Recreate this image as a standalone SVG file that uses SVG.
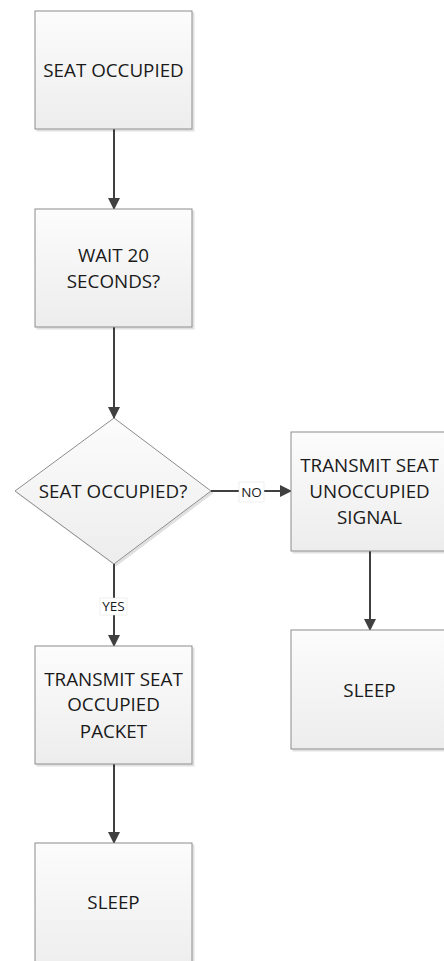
<svg xmlns="http://www.w3.org/2000/svg" width="444" height="961" viewBox="0 0 444 961">
<defs>
<linearGradient id="g" x1="0" y1="0" x2="0" y2="1"><stop offset="0" stop-color="#fcfcfc"/><stop offset="1" stop-color="#ededed"/></linearGradient>
<marker id="ah" markerWidth="12" markerHeight="12" refX="11" refY="6" orient="auto" markerUnits="userSpaceOnUse"><path d="M0,0 L12,6 L0,12 Z" fill="#404040"/></marker>
<filter id="sh" x="-10%" y="-10%" width="130%" height="130%"><feOffset dx="2" dy="2" in="SourceAlpha"/><feColorMatrix type="matrix" values="0 0 0 0 0  0 0 0 0 0  0 0 0 0 0  0 0 0 0.12 0"/><feMerge><feMergeNode/><feMergeNode in="SourceGraphic"/></feMerge></filter>
</defs>
<style>
.n{fill:url(#g);stroke:#8c8c8c;stroke-width:1;filter:url(#sh)}
.t{font-family:"Open Sans","Liberation Sans",sans-serif;font-size:18.8px;fill:#1a1a1a;text-anchor:middle}
.c{stroke:#404040;stroke-width:2;fill:none;marker-end:url(#ah)}
.lb{fill:#ffffff;stroke:#e0e0e0;stroke-width:0.5}
.lt{font-family:"Open Sans","Liberation Sans",sans-serif;font-size:13.5px;fill:#1a1a1a;text-anchor:middle}
</style>
<rect width="444" height="961" fill="#ffffff"/>
<g id="connectors">
<line class="c" x1="114" y1="129" x2="114" y2="209"/>
<line class="c" x1="114" y1="327" x2="114" y2="418"/>
<line class="c" x1="211" y1="491" x2="291" y2="491"/>
<line class="c" x1="114" y1="564" x2="114" y2="646"/>
<line class="c" x1="114" y1="764" x2="114" y2="843"/>
<line class="c" x1="370" y1="551" x2="370" y2="630"/>
<rect class="lb" x="239" y="482" width="25" height="20"/>
<text class="lt" x="251.5" y="497">NO</text>
<rect class="lb" x="100" y="598" width="27" height="17"/>
<text class="lt" x="113.5" y="611">YES</text>
</g>
<g id="n1"><rect class="n" x="35" y="11" width="157" height="118"/><text class="t" x="113.5" y="77">SEAT OCCUPIED</text></g>
<g id="n2"><rect class="n" x="35" y="209" width="157" height="118"/><text class="t" x="113.5" y="262">WAIT 20</text><text class="t" x="113.5" y="288">SECONDS?</text></g>
<g id="n3"><polygon class="n" points="114,418 211,491 114,564 15,491"/><text class="t" x="113" y="498">SEAT OCCUPIED?</text></g>
<g id="n4"><rect class="n" x="291" y="432" width="157" height="119"/><text class="t" x="369.5" y="472">TRANSMIT SEAT</text><text class="t" x="369.5" y="498">UNOCCUPIED</text><text class="t" x="369.5" y="524">SIGNAL</text></g>
<g id="n5"><rect class="n" x="35" y="646" width="157" height="118"/><text class="t" x="113.5" y="686">TRANSMIT SEAT</text><text class="t" x="113.5" y="711">OCCUPIED</text><text class="t" x="113.5" y="738">PACKET</text></g>
<g id="n6"><rect class="n" x="291" y="630" width="157" height="119"/><text class="t" x="369.5" y="697">SLEEP</text></g>
<g id="n7"><rect class="n" x="35" y="843" width="157" height="130"/><text class="t" x="113.5" y="909">SLEEP</text></g>
</svg>
